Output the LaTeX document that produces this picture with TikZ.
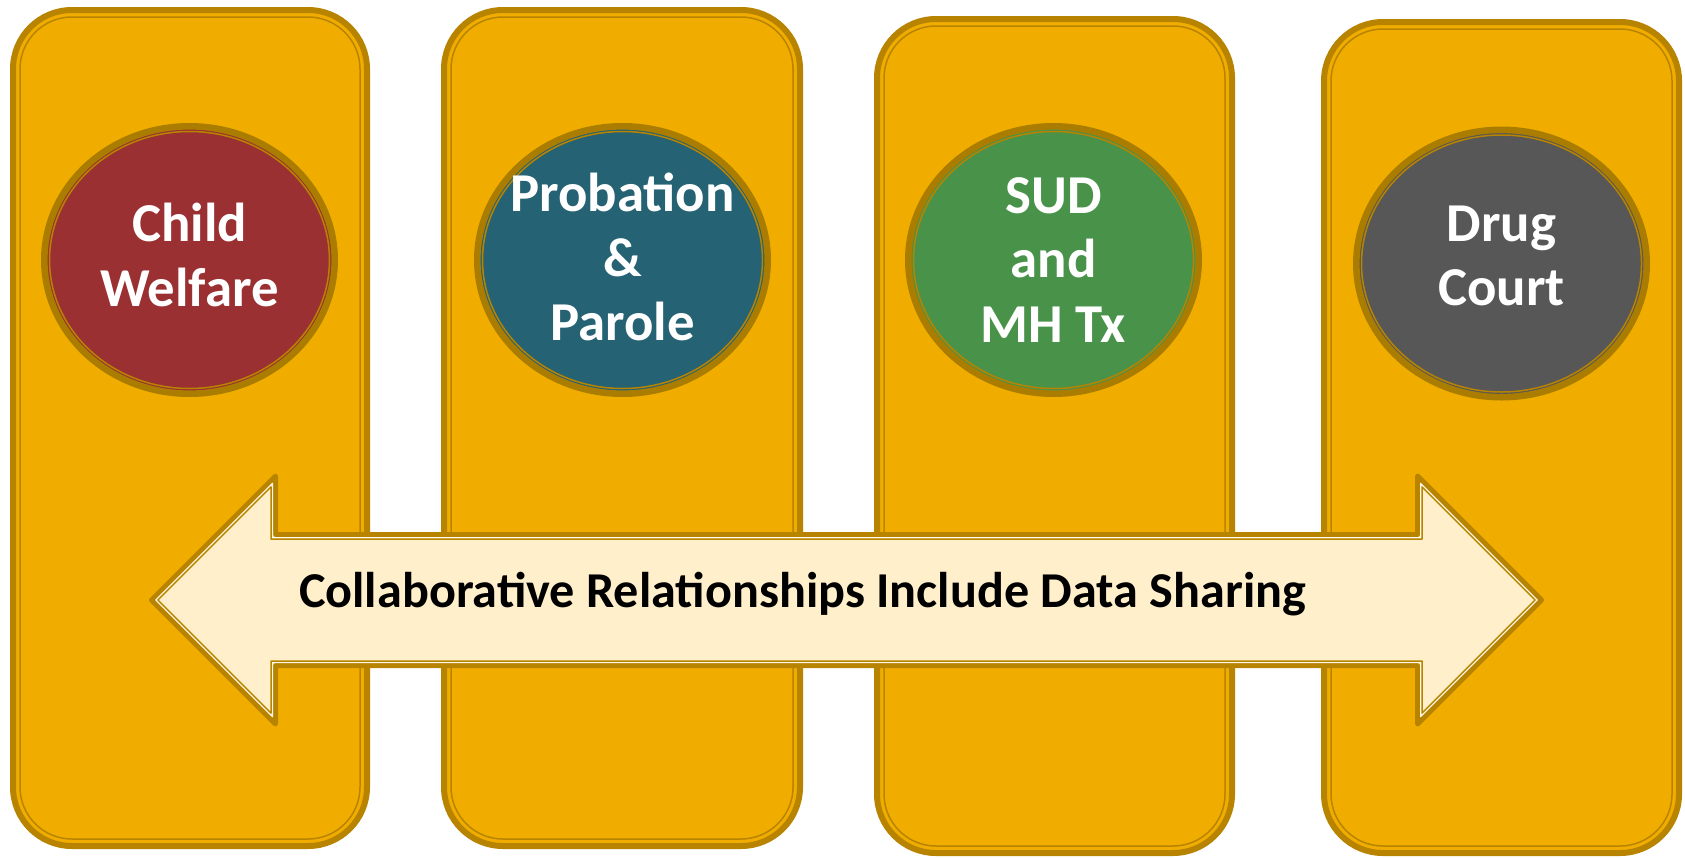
\documentclass[tikz,border=0pt]{standalone}
\usepackage{fontspec}
\setmainfont{Carlito}
\usetikzlibrary{shapes.geometric}
\definecolor{boxgold}{HTML}{F0AD00}
\definecolor{edgegold}{HTML}{B88400}
\definecolor{ringgold}{HTML}{AA7D00}
\definecolor{arrowcream}{HTML}{FFEFCA}
\definecolor{arrowlight}{HTML}{FFF9EC}
\definecolor{cwred}{HTML}{9B3032}
\definecolor{ppteal}{HTML}{256273}
\definecolor{sudgreen}{HTML}{48924A}
\definecolor{dcgray}{HTML}{575757}
\newcommand\agencybox[4]{%
  \draw[boxouter] (#1+3,#2+3) rectangle (#3-3,#4-3);
  \draw[boxinner] (#1+10,#2+10) rectangle (#3-10,#4-10);}
\newcommand\arrowoutline[1]{%
  (148+1.4142*#1,600) -- (278-#1,470+2.4142*#1) -- (278-#1,532+#1) --
  (1415+#1,532+#1) -- (1415+#1,470+2.4142*#1) -- (1545-1.4142*#1,600) --
  (1415+#1,730-2.4142*#1) -- (1415+#1,668-#1) -- (278-#1,668-#1) --
  (278-#1,730-2.4142*#1) -- cycle}
\tikzset{
  boxouter/.style={fill=boxgold, draw=edgegold, line width=3pt, rounded corners=29.5pt},
  boxinner/.style={draw=edgegold, line width=0.75pt, rounded corners=26pt},
  agency/.style={ellipse, draw=ringgold, line width=3.3pt, minimum width=145.2pt,
    minimum height=133.7pt, inner sep=0pt},
  ringline/.style={draw=edgegold, line width=0.75pt},
  agencytext/.style={text=white, align=center, inner sep=0pt,
    font=\fontsize{27.4pt}{32.3pt}\selectfont\bfseries},
  sharetext/.style={text=black, inner sep=0pt,
    font=\fontsize{25.1pt}{30pt}\selectfont\bfseries},
  arrowouter/.style={fill=arrowcream, draw=edgegold, line width=2.5pt, line join=round},
  arrowlightline/.style={draw=arrowlight, line width=0.6pt, line join=round},
  arrowinner/.style={draw=edgegold, line width=0.75pt, line join=round}
}
\begin{document}
\begin{tikzpicture}[x=0.5pt,y=-0.5pt]
\useasboundingbox (0,0) rectangle (1685,857);
\fill[white] (0,0) rectangle (1685,857);
% agency columns
\agencybox{10}{7}{370}{849}
\agencybox{441}{7}{803}{849}
\agencybox{874}{16}{1235}{856}
\agencybox{1321}{19}{1682}{856}
% ellipses
\node[agency, fill=cwred] (cw) at (189.5,260) {};
\node[agency, fill=ppteal] (pp) at (622.5,260) {};
\node[agency, fill=sudgreen] (sud) at (1053.5,260) {};
\node[agency, fill=dcgray] (dc) at (1501.5,263.5) {};
\foreach \e in {cw,pp,sud,dc}{
  \draw[ringline] (\e.center) ellipse [x radius=140, y radius=128.5];
}
\node[agencytext] (cwt) at (189.5,255) {Child\\Welfare};
\node[agencytext] (ppt) at (622.5,257) {Probation\\\&\\Parole};
\node[agencytext] (sudt) at (1053.5,260) {SUD\\and\\MH Tx};
\node[agencytext] (dct) at (1501.5,256) {Drug\\Court};
% double-headed arrow
\draw[arrowouter] \arrowoutline{2.5};
\draw[arrowlightline] \arrowoutline{5.6};
\draw[arrowinner] \arrowoutline{7};
\node[sharetext, anchor=base] (share) at (802.5,607) {Collaborative Relationships Include Data Sharing};
\end{tikzpicture}
\end{document}
